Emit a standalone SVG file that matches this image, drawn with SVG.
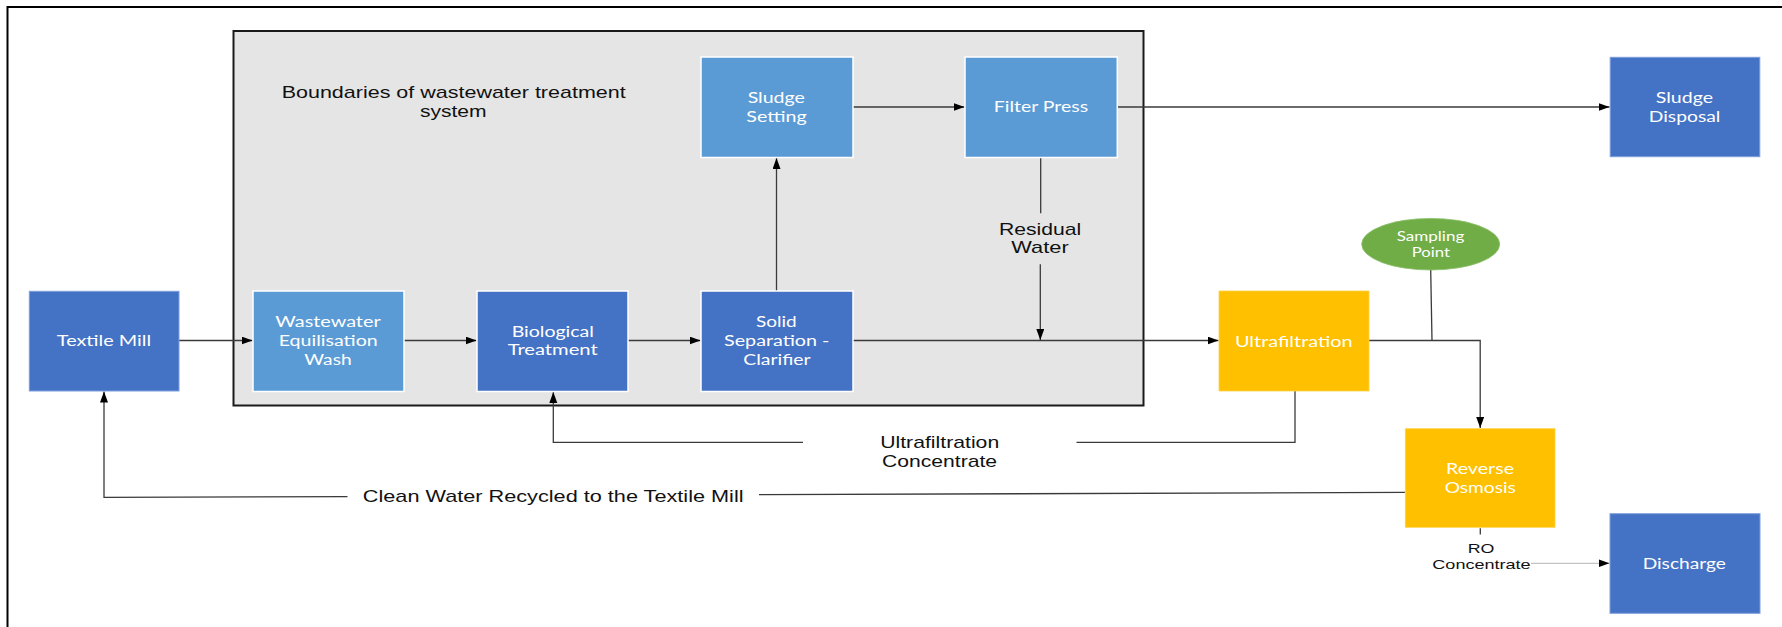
<svg xmlns="http://www.w3.org/2000/svg" width="1782" height="627" viewBox="0 0 1782 627">
  <style>
    .frame { fill: none; stroke: #000; stroke-width: 2; }
    .boundary { fill: #e5e5e5; stroke: #1a1a1a; stroke-width: 2; }
    .dark { fill: #4472c4; }
    .dark-out { fill: #4472c4; stroke: #7f9fdc; stroke-width: 1; }
    .dark-in { fill: #4472c4; stroke: #ffffff; stroke-width: 1.5; }
    .light { fill: #5b9bd5; stroke: #ffffff; stroke-width: 1.5; }
    .amber { fill: #ffc000; stroke: #ffd24d; stroke-width: 0.8; }
    .green { fill: #70ad47; stroke: #8cc06a; stroke-width: 0.8; }
    .node-text { font-family: Lato, "Open Sans", "Liberation Sans", sans-serif; font-size: 14.5px; fill: #ffffff; text-anchor: middle; }
    .small-node-text { font-family: Lato, "Open Sans", "Liberation Sans", sans-serif; font-size: 12.5px; fill: #ffffff; text-anchor: middle; }
    .label { font-family: "Liberation Sans", Arial, sans-serif; font-size: 17px; fill: #111; text-anchor: middle; }
    .label-sm { font-family: "Liberation Sans", Arial, sans-serif; font-size: 13.5px; fill: #111; text-anchor: middle; }
    .conn { fill: none; stroke: #3a3a3a; stroke-width: 1.3; }
    .conn-faint { fill: none; stroke: #c4c4c4; stroke-width: 1.3; }
  </style>
  <defs>
    <marker id="arrow" markerUnits="userSpaceOnUse" markerWidth="12" markerHeight="9" refX="11" refY="4" orient="auto">
      <path d="M0,0 L11,4 L0,8 Z" fill="#000"/>
    </marker>
  </defs>

  <rect width="1782" height="627" fill="#ffffff"/>
  <!-- page frame -->
  <rect class="frame" x="7.5" y="7" width="1800" height="700"/>

  <!-- treatment system boundary -->
  <g id="boundary">
    <rect class="boundary" x="233.5" y="31" width="910" height="374.5"/>
    <text class="label" x="453.7" y="98.3" textLength="344" lengthAdjust="spacingAndGlyphs">Boundaries of wastewater treatment</text>
    <text class="label" x="453.3" y="116.7" textLength="66.7" lengthAdjust="spacingAndGlyphs">system</text>
  </g>

  <!-- connectors -->
  <g id="connectors">
    <line class="conn" x1="179" y1="340.5" x2="252.5" y2="340.5" marker-end="url(#arrow)"/>
    <line class="conn" x1="404" y1="340.5" x2="476.5" y2="340.5" marker-end="url(#arrow)"/>
    <line class="conn" x1="628" y1="340.5" x2="700.5" y2="340.5" marker-end="url(#arrow)"/>
    <line class="conn" x1="853" y1="340.5" x2="1218.5" y2="340.5" marker-end="url(#arrow)"/>
    <line class="conn" x1="776.5" y1="291" x2="776.5" y2="158" marker-end="url(#arrow)"/>
    <line class="conn" x1="853" y1="107" x2="964.5" y2="107" marker-end="url(#arrow)"/>
    <line class="conn" x1="1117" y1="107" x2="1609.5" y2="107" marker-end="url(#arrow)"/>
    <!-- residual water from the filter press -->
    <line class="conn" x1="1040.7" y1="157" x2="1040.7" y2="213.3"/>
    <line class="conn" x1="1040.3" y1="264.3" x2="1040.3" y2="340" marker-end="url(#arrow)"/>
    <!-- ultrafiltration to reverse osmosis -->
    <polyline class="conn" points="1369,340.5 1480.2,340.5 1480.2,428" marker-end="url(#arrow)"/>
    <line class="conn" x1="1430.7" y1="270" x2="1432" y2="340.5"/>
    <!-- ultrafiltration concentrate back to biological treatment -->
    <polyline class="conn" points="1295,391 1295,442.3 1076.5,442.3"/>
    <polyline class="conn" points="803,442.3 553.3,442.3 553.3,392" marker-end="url(#arrow)"/>
    <!-- clean water recycled -->
    <line class="conn" x1="1405" y1="492.3" x2="759" y2="494.7"/>
    <polyline class="conn" points="347.5,496.7 104,497.3 104,391.5" marker-end="url(#arrow)"/>
    <!-- RO concentrate to discharge -->
    <line class="conn" x1="1480.3" y1="528.3" x2="1480.3" y2="534.5"/>
    <line class="conn-faint" x1="1531" y1="563.3" x2="1609.5" y2="563.3" marker-end="url(#arrow)"/>
  </g>

  <!-- connector labels -->
  <g id="labels">
    <text class="label" x="1040" y="235" textLength="82.2" lengthAdjust="spacingAndGlyphs">Residual</text>
    <text class="label" x="1040" y="253.3" textLength="57.4" lengthAdjust="spacingAndGlyphs">Water</text>
    <text class="label" x="939.7" y="448.3" textLength="119" lengthAdjust="spacingAndGlyphs">Ultrafiltration</text>
    <text class="label" x="939.6" y="466.7" textLength="115" lengthAdjust="spacingAndGlyphs">Concentrate</text>
    <text class="label" x="553.2" y="501.7" textLength="380.7" lengthAdjust="spacingAndGlyphs">Clean Water Recycled to the Textile Mill</text>
    <text class="label-sm" x="1481" y="552.7" textLength="26.7" lengthAdjust="spacingAndGlyphs">RO</text>
    <text class="label-sm" x="1481.5" y="569.3" textLength="98.3" lengthAdjust="spacingAndGlyphs">Concentrate</text>
  </g>

  <g id="textile-mill">
    <rect class="dark-out" x="29.3" y="291.3" width="149.7" height="99.7"/>
    <text class="node-text" x="104" y="346" textLength="94.3" lengthAdjust="spacingAndGlyphs">Textile Mill</text>
  </g>

  <g id="equalisation">
    <rect class="light" x="253" y="291" width="151" height="100.5"/>
    <text class="node-text" x="328" y="327.3" textLength="105.3" lengthAdjust="spacingAndGlyphs">Wastewater</text>
    <text class="node-text" x="328.2" y="346" textLength="99" lengthAdjust="spacingAndGlyphs">Equilisation</text>
    <text class="node-text" x="328" y="364.7" textLength="47.3" lengthAdjust="spacingAndGlyphs">Wash</text>
  </g>

  <g id="biological">
    <rect class="dark-in" x="477" y="291" width="151" height="100.5"/>
    <text class="node-text" x="552.8" y="336.7" textLength="82.3" lengthAdjust="spacingAndGlyphs">Biological</text>
    <text class="node-text" x="552.7" y="355" textLength="90" lengthAdjust="spacingAndGlyphs">Treatment</text>
  </g>

  <g id="clarifier">
    <rect class="dark-in" x="701" y="291" width="152" height="100.5"/>
    <text class="node-text" x="776.3" y="327.3" textLength="40.7" lengthAdjust="spacingAndGlyphs">Solid</text>
    <text class="node-text" x="776.7" y="346" textLength="105.3" lengthAdjust="spacingAndGlyphs">Separation -</text>
    <text class="node-text" x="777" y="364.7" textLength="67.4" lengthAdjust="spacingAndGlyphs">Clarifier</text>
  </g>

  <g id="sludge-setting">
    <rect class="light" x="701" y="57" width="152" height="100.5"/>
    <text class="node-text" x="776.3" y="103.3" textLength="57.3" lengthAdjust="spacingAndGlyphs">Sludge</text>
    <text class="node-text" x="776.5" y="121.7" textLength="60.4" lengthAdjust="spacingAndGlyphs">Setting</text>
  </g>

  <g id="filter-press">
    <rect class="light" x="965" y="57" width="152.3" height="100.5"/>
    <text class="node-text" x="1041" y="112.3" textLength="94.3" lengthAdjust="spacingAndGlyphs">Filter Press</text>
  </g>

  <g id="sludge-disposal">
    <rect class="dark-out" x="1610.2" y="57.3" width="149.6" height="99.4"/>
    <text class="node-text" x="1684.4" y="103.3" textLength="57.2" lengthAdjust="spacingAndGlyphs">Sludge</text>
    <text class="node-text" x="1684.6" y="121.7" textLength="71.6" lengthAdjust="spacingAndGlyphs">Disposal</text>
  </g>

  <g id="ultrafiltration">
    <rect class="amber" x="1219" y="291" width="150" height="100"/>
    <text class="node-text" x="1293.8" y="346.7" textLength="117.7" lengthAdjust="spacingAndGlyphs">Ultrafiltration</text>
  </g>

  <g id="sampling-point">
    <ellipse class="green" cx="1430.7" cy="244.2" rx="69" ry="25.8"/>
    <text class="small-node-text" x="1430.5" y="240.7" textLength="67.7" lengthAdjust="spacingAndGlyphs">Sampling</text>
    <text class="small-node-text" x="1430.8" y="256.7" textLength="38.3" lengthAdjust="spacingAndGlyphs">Point</text>
  </g>

  <g id="reverse-osmosis">
    <rect class="amber" x="1405.3" y="428.7" width="149.7" height="98.6"/>
    <text class="node-text" x="1480" y="474" textLength="68" lengthAdjust="spacingAndGlyphs">Reverse</text>
    <text class="node-text" x="1480.3" y="492.7" textLength="71.3" lengthAdjust="spacingAndGlyphs">Osmosis</text>
  </g>

  <g id="discharge">
    <rect class="dark-out" x="1610" y="513.7" width="150" height="99.6"/>
    <text class="node-text" x="1684.3" y="569" textLength="83.3" lengthAdjust="spacingAndGlyphs">Discharge</text>
  </g>
</svg>
